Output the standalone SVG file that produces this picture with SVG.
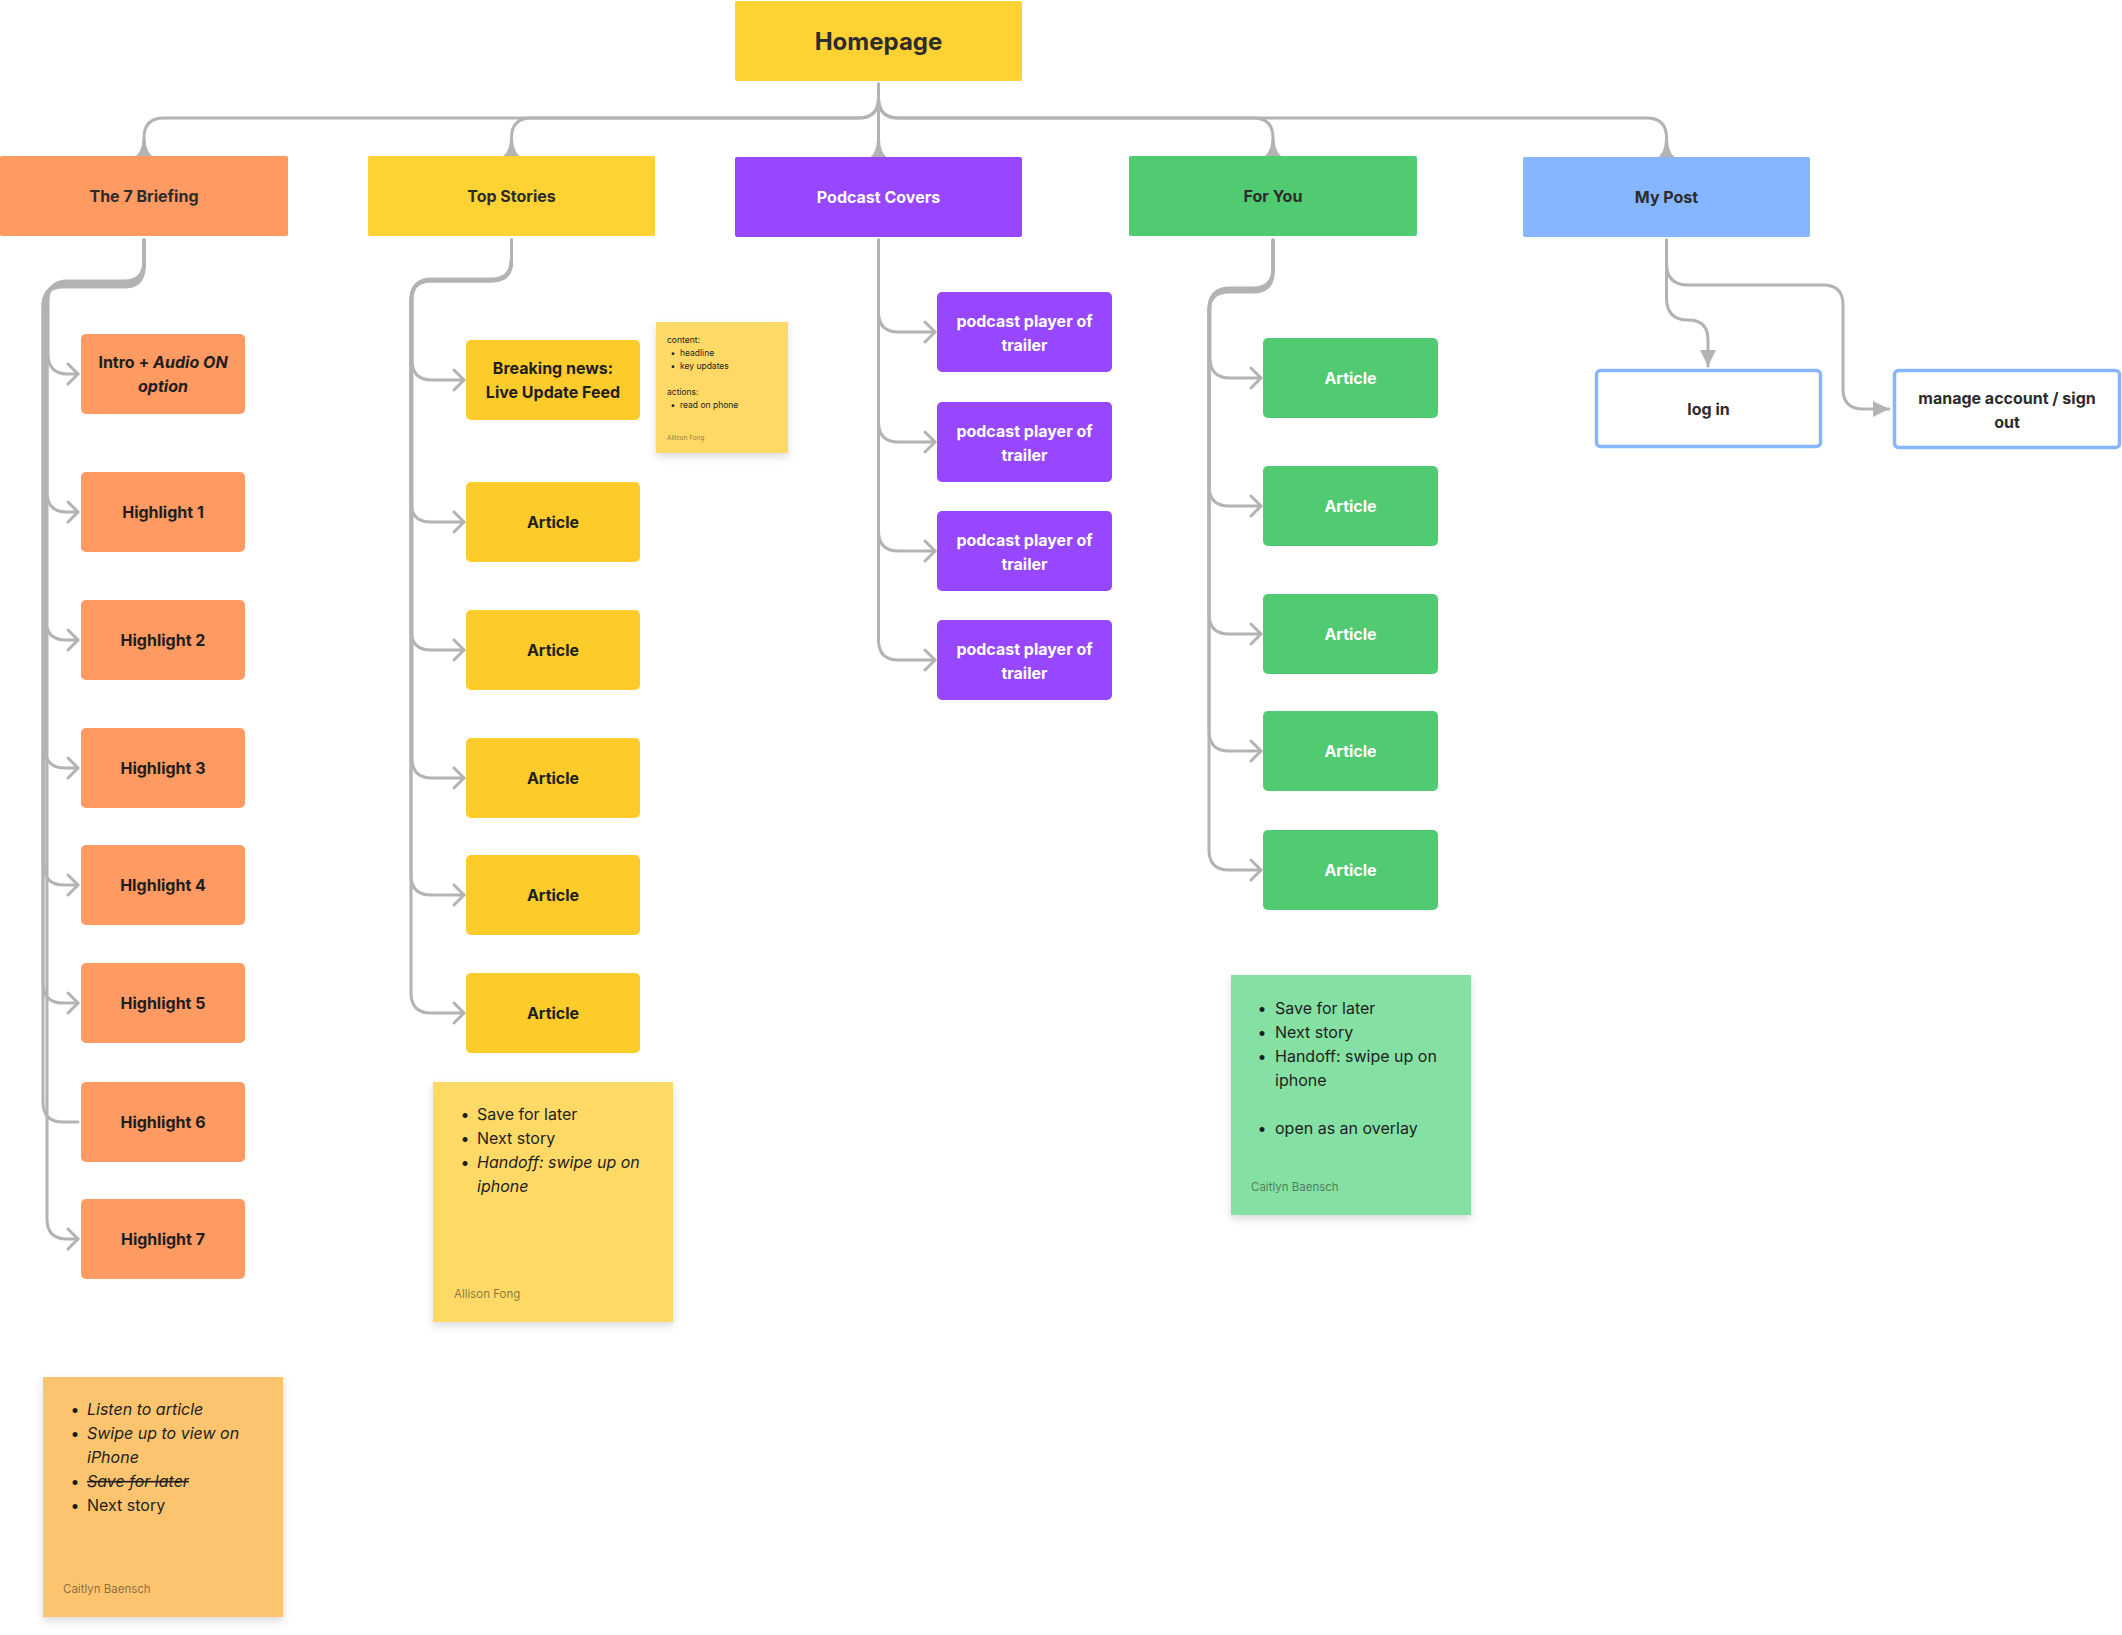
<svg xmlns="http://www.w3.org/2000/svg" width="2122" height="1635" viewBox="0 0 2122 1635">
<defs>
<style>
.lbl{font-family:Inter,"Liberation Sans",sans-serif;font-weight:700;font-size:16px;fill:#1E1E1E;text-anchor:middle;dominant-baseline:central}
.hd{fill:#2C2C2C}
.w{fill:#FFFFFF}
.or{fill:#FF9A62}
.ye{fill:#FFD234}
.ye2{fill:#FDCC2B}
.pu{fill:#9747FF}
.gr{fill:#50CB71}
.bl{fill:#85B6FF}
.st{font-family:Inter,"Liberation Sans",sans-serif;font-size:16px;fill:#1E1E1E}
.au{font-family:Inter,"Liberation Sans",sans-serif;font-size:11.5px;fill:#1E1E1E;fill-opacity:0.55}
.sm{font-family:Inter,"Liberation Sans",sans-serif;font-size:8.5px;fill:#1E1E1E}
.it{font-style:italic}
.con{fill:none;stroke:#B3B3B3;stroke-width:3;stroke-linecap:round;stroke-linejoin:round}
</style>
<marker id="tri" markerUnits="userSpaceOnUse" markerWidth="20" markerHeight="20" refX="0" refY="0" orient="auto" overflow="visible">
<path d="M-16,-8 L0,0 L-16,8 Z" fill="#B3B3B3"/>
</marker>
<marker id="flare" markerUnits="userSpaceOnUse" markerWidth="20" markerHeight="20" refX="0" refY="0" orient="auto" overflow="visible">
<path d="M-17,-1.5 Q-5,-2 0,-8 L0,8 Q-5,2 -17,1.5 Z" fill="#B3B3B3"/>
</marker>
<marker id="chev" markerUnits="userSpaceOnUse" markerWidth="20" markerHeight="24" refX="0" refY="0" orient="auto" overflow="visible">
<path d="M-10,-10 L0,0 L-10,10" fill="none" stroke="#B3B3B3" stroke-width="3" stroke-linecap="round" stroke-linejoin="round"/>
</marker>
<filter id="sh" x="-10%" y="-10%" width="120%" height="125%">
<feDropShadow dx="0" dy="4" stdDeviation="4" flood-color="#000" flood-opacity="0.14"/>
</filter>
</defs>
<rect x="0" y="0" width="2122" height="1635" fill="#FFFFFF"/>

<g id="connectors">
<path class="con" marker-end="url(#flare)" d="M878.5,84 V98 Q878.5,118 858.5,118 H164 Q144,118 144,138 V156"/>
<path class="con" marker-end="url(#flare)" d="M878.5,84 V98 Q878.5,118 858.5,118 H531.5 Q511.5,118 511.5,138 V156"/>
<path class="con" marker-end="url(#flare)" d="M878.5,84 V157"/>
<path class="con" marker-end="url(#flare)" d="M878.5,84 V98 Q878.5,118 898.5,118 H1253 Q1273,118 1273,138 V156"/>
<path class="con" marker-end="url(#flare)" d="M878.5,84 V98 Q878.5,118 898.5,118 H1646.5 Q1666.5,118 1666.5,138 V157"/>
<path class="con" marker-end="url(#chev)" d="M144,240 V261 Q144,281 124,281 H68 Q48,281 48,301 V354 Q48,374 68,374 H78"/>
<path class="con" marker-end="url(#chev)" d="M144,240 V262 Q144,282 124,282 H67 Q47,282 47,302 V492 Q47,512 67,512 H78"/>
<path class="con" marker-end="url(#chev)" d="M144,240 V263 Q144,283 124,283 H66 Q46,283 46,303 V620 Q46,640 66,640 H78"/>
<path class="con" marker-end="url(#chev)" d="M144,240 V264 Q144,284 124,284 H65 Q45,284 45,304 V748 Q45,768 65,768 H78"/>
<path class="con" marker-end="url(#chev)" d="M144,240 V265 Q144,285 124,285 H64 Q44,285 44,305 V865 Q44,885 64,885 H78"/>
<path class="con" marker-end="url(#chev)" d="M144,240 V266 Q144,286 124,286 H63 Q43,286 43,306 V983 Q43,1003 63,1003 H78"/>
<path class="con" d="M144,240 V267 Q144,287 124,287 H63 Q43,287 43,307 V1102 Q43,1122 63,1122 H78"/>
<path class="con" marker-end="url(#chev)" d="M144,240 V263 Q144,283 124,283 H67 Q47,283 47,303 V1219 Q47,1239 67,1239 H78"/>
<path class="con" marker-end="url(#chev)" d="M511.5,240 V259 Q511.5,279 491.5,279 H432 Q412,279 412,299 V360 Q412,380 432,380 H464"/>
<path class="con" marker-end="url(#chev)" d="M511.5,240 V260 Q511.5,280 491.5,280 H431 Q411,280 411,300 V502 Q411,522 431,522 H464"/>
<path class="con" marker-end="url(#chev)" d="M511.5,240 V261 Q511.5,281 491.5,281 H431 Q411,281 411,301 V630 Q411,650 431,650 H464"/>
<path class="con" marker-end="url(#chev)" d="M511.5,240 V260 Q511.5,280 491.5,280 H432 Q412,280 412,300 V758 Q412,778 432,778 H464"/>
<path class="con" marker-end="url(#chev)" d="M511.5,240 V261 Q511.5,281 491.5,281 H431 Q411,281 411,301 V875 Q411,895 431,895 H464"/>
<path class="con" marker-end="url(#chev)" d="M511.5,240 V260 Q511.5,280 491.5,280 H431 Q411,280 411,300 V993 Q411,1013 431,1013 H464"/>
<path class="con" marker-end="url(#chev)" d="M878.5,240 V312 Q878.5,332 898.5,332 H935"/>
<path class="con" marker-end="url(#chev)" d="M878.5,240 V422 Q878.5,442 898.5,442 H935"/>
<path class="con" marker-end="url(#chev)" d="M878.5,240 V531 Q878.5,551 898.5,551 H935"/>
<path class="con" marker-end="url(#chev)" d="M878.5,240 V640 Q878.5,660 898.5,660 H935"/>
<path class="con" marker-end="url(#chev)" d="M1273,240 V268 Q1273,288 1253,288 H1230 Q1210,288 1210,308 V358 Q1210,378 1230,378 H1261"/>
<path class="con" marker-end="url(#chev)" d="M1273,240 V269 Q1273,289 1253,289 H1229 Q1209,289 1209,309 V486 Q1209,506 1229,506 H1261"/>
<path class="con" marker-end="url(#chev)" d="M1273,240 V270 Q1273,290 1253,290 H1229 Q1209,290 1209,310 V614 Q1209,634 1229,634 H1261"/>
<path class="con" marker-end="url(#chev)" d="M1273,240 V271 Q1273,291 1253,291 H1229 Q1209,291 1209,311 V731 Q1209,751 1229,751 H1261"/>
<path class="con" marker-end="url(#chev)" d="M1273,240 V272 Q1273,292 1253,292 H1229 Q1209,292 1209,312 V850 Q1209,870 1229,870 H1261"/>
<path class="con" marker-end="url(#tri)" d="M1666.5,240 V298 Q1666.5,320 1688,320 Q1708,320 1708,340 V366"/>
<path class="con" marker-end="url(#tri)" d="M1666.5,240 V263 Q1666.5,285 1688,285 H1823 Q1843,285 1843,305 V389 Q1843,409 1863,409 H1889"/>
</g>

<g id="homepage"><rect x="735" y="1" width="287" height="80" rx="2" class="ye"/><text class="lbl hd" x="878.5" y="41" style="font-size:24px">Homepage</text></g>

<g id="the-7-briefing"><rect x="0" y="156" width="288" height="80" rx="2" class="or"/><text class="lbl hd" x="144" y="196">The 7 Briefing</text></g>
<g id="top-stories"><rect x="368" y="156" width="287" height="80" rx="2" class="ye"/><text class="lbl hd" x="511.5" y="196">Top Stories</text></g>
<g id="podcast-covers"><rect x="735" y="157" width="287" height="80" rx="2" class="pu"/><text class="lbl w" x="878.5" y="197">Podcast Covers</text></g>
<g id="for-you"><rect x="1129" y="156" width="288" height="80" rx="2" class="gr"/><text class="lbl hd" x="1273" y="196">For You</text></g>
<g id="my-post"><rect x="1523" y="157" width="287" height="80" rx="2" class="bl"/><text class="lbl hd" x="1666.5" y="197">My Post</text></g>

<g id="intro"><rect x="81" y="334" width="164" height="80" rx="5" class="or"/><text class="lbl" x="163" y="362">Intro + <tspan class="it">Audio ON</tspan></text><text class="lbl it" x="163" y="386">option</text></g>
<g id="highlight-1"><rect x="81" y="472" width="164" height="80" rx="5" class="or"/><text class="lbl" x="163" y="512">Highlight 1</text></g>
<g id="highlight-2"><rect x="81" y="600" width="164" height="80" rx="5" class="or"/><text class="lbl" x="163" y="640">Highlight 2</text></g>
<g id="highlight-3"><rect x="81" y="728" width="164" height="80" rx="5" class="or"/><text class="lbl" x="163" y="768">Highlight 3</text></g>
<g id="highlight-4"><rect x="81" y="845" width="164" height="80" rx="5" class="or"/><text class="lbl" x="163" y="885">HIghlight 4</text></g>
<g id="highlight-5"><rect x="81" y="963" width="164" height="80" rx="5" class="or"/><text class="lbl" x="163" y="1003">Highlight 5</text></g>
<g id="highlight-6"><rect x="81" y="1082" width="164" height="80" rx="5" class="or"/><text class="lbl" x="163" y="1122">Highlight 6</text></g>
<g id="highlight-7"><rect x="81" y="1199" width="164" height="80" rx="5" class="or"/><text class="lbl" x="163" y="1239">Highlight 7</text></g>

<g id="breaking-news"><rect x="466" y="340" width="174" height="80" rx="5" class="ye2"/><text class="lbl" x="553" y="368">Breaking news:</text><text class="lbl" x="553" y="392">Live Update Feed</text></g>
<g id="ts-article-1"><rect x="466" y="482" width="174" height="80" rx="5" class="ye2"/><text class="lbl" x="553" y="522">Article</text></g>
<g id="ts-article-2"><rect x="466" y="610" width="174" height="80" rx="5" class="ye2"/><text class="lbl" x="553" y="650">Article</text></g>
<g id="ts-article-3"><rect x="466" y="738" width="174" height="80" rx="5" class="ye2"/><text class="lbl" x="553" y="778">Article</text></g>
<g id="ts-article-4"><rect x="466" y="855" width="174" height="80" rx="5" class="ye2"/><text class="lbl" x="553" y="895">Article</text></g>
<g id="ts-article-5"><rect x="466" y="973" width="174" height="80" rx="5" class="ye2"/><text class="lbl" x="553" y="1013">Article</text></g>

<g id="podcast-1"><rect x="937" y="292" width="175" height="80" rx="5" class="pu"/><text class="lbl w" x="1024.5" y="321">podcast player of</text><text class="lbl w" x="1024.5" y="345">trailer</text></g>
<g id="podcast-2"><rect x="937" y="402" width="175" height="80" rx="5" class="pu"/><text class="lbl w" x="1024.5" y="431">podcast player of</text><text class="lbl w" x="1024.5" y="455">trailer</text></g>
<g id="podcast-3"><rect x="937" y="511" width="175" height="80" rx="5" class="pu"/><text class="lbl w" x="1024.5" y="540">podcast player of</text><text class="lbl w" x="1024.5" y="564">trailer</text></g>
<g id="podcast-4"><rect x="937" y="620" width="175" height="80" rx="5" class="pu"/><text class="lbl w" x="1024.5" y="649">podcast player of</text><text class="lbl w" x="1024.5" y="673">trailer</text></g>

<g id="fy-article-1"><rect x="1263" y="338" width="175" height="80" rx="5" class="gr"/><text class="lbl w" x="1350.5" y="378">Article</text></g>
<g id="fy-article-2"><rect x="1263" y="466" width="175" height="80" rx="5" class="gr"/><text class="lbl w" x="1350.5" y="506">Article</text></g>
<g id="fy-article-3"><rect x="1263" y="594" width="175" height="80" rx="5" class="gr"/><text class="lbl w" x="1350.5" y="634">Article</text></g>
<g id="fy-article-4"><rect x="1263" y="711" width="175" height="80" rx="5" class="gr"/><text class="lbl w" x="1350.5" y="751">Article</text></g>
<g id="fy-article-5"><rect x="1263" y="830" width="175" height="80" rx="5" class="gr"/><text class="lbl w" x="1350.5" y="870">Article</text></g>

<g id="log-in"><rect x="1596.5" y="370.5" width="224" height="76" rx="4" fill="#FFFFFF" stroke="#85B6FF" stroke-width="3.5"/><text class="lbl hd" x="1708.5" y="409">log in</text></g>
<g id="manage-account"><rect x="1894.5" y="370.5" width="225" height="77" rx="4" fill="#FFFFFF" stroke="#85B6FF" stroke-width="3.5"/><text class="lbl hd" x="2007" y="398">manage account / sign</text><text class="lbl hd" x="2007" y="422">out</text></g>

<g id="sticky-breaking">
<rect x="656" y="322" width="132" height="131" fill="#FED966" filter="url(#sh)"/>
<text class="sm" x="667" y="343">content:</text>
<text class="sm" x="673" y="356" text-anchor="middle">•</text><text class="sm" x="680" y="356">headline</text>
<text class="sm" x="673" y="369" text-anchor="middle">•</text><text class="sm" x="680" y="369">key updates</text>
<text class="sm" x="667" y="395">actions:</text>
<text class="sm" x="673" y="408" text-anchor="middle">•</text><text class="sm" x="680" y="408">read on phone</text>
<text class="au" x="667" y="440" style="font-size:6.5px">Allison Fong</text>
</g>

<g id="sticky-top-stories">
<rect x="433" y="1082" width="240" height="240" fill="#FED966" filter="url(#sh)"/>
<text class="st" x="465" y="1120" text-anchor="middle">•</text><text class="st" x="477" y="1120">Save for later</text>
<text class="st" x="465" y="1144" text-anchor="middle">•</text><text class="st" x="477" y="1144">Next story</text>
<text class="st" x="465" y="1168" text-anchor="middle">•</text><text class="st it" x="477" y="1168">Handoff: swipe up on</text>
<text class="st it" x="477" y="1192">iphone</text>
<text class="au" x="454" y="1298">Allison Fong</text>
</g>

<g id="sticky-briefing">
<rect x="43" y="1377" width="240" height="240" fill="#FCC46E" filter="url(#sh)"/>
<text class="st" x="75" y="1415" text-anchor="middle">•</text><text class="st it" x="87" y="1415">Listen to article</text>
<text class="st" x="75" y="1439" text-anchor="middle">•</text><text class="st it" x="87" y="1439">Swipe up to view on</text>
<text class="st it" x="87" y="1463">iPhone</text>
<text class="st" x="75" y="1487" text-anchor="middle">•</text><text class="st it" x="87" y="1487" text-decoration="line-through">Save for later</text>
<text class="st" x="75" y="1511" text-anchor="middle">•</text><text class="st" x="87" y="1511">Next story</text>
<text class="au" x="63" y="1593">Caitlyn Baensch</text>
</g>

<g id="sticky-for-you">
<rect x="1231" y="975" width="240" height="240" fill="#85E0A3" filter="url(#sh)"/>
<text class="st" x="1262" y="1014" text-anchor="middle">•</text><text class="st" x="1275" y="1014">Save for later</text>
<text class="st" x="1262" y="1038" text-anchor="middle">•</text><text class="st" x="1275" y="1038">Next story</text>
<text class="st" x="1262" y="1062" text-anchor="middle">•</text><text class="st" x="1275" y="1062">Handoff: swipe up on</text>
<text class="st" x="1275" y="1086">iphone</text>
<text class="st" x="1262" y="1134" text-anchor="middle">•</text><text class="st" x="1275" y="1134">open as an overlay</text>
<text class="au" x="1251" y="1191">Caitlyn Baensch</text>
</g>
</svg>
